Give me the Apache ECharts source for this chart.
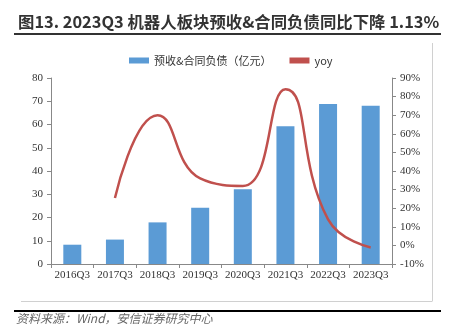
<!DOCTYPE html>
<html><head><meta charset="utf-8">
<script src="https://cdn.jsdelivr.net/npm/echarts@6/dist/echarts.min.js"></script>
<style>html,body{margin:0;padding:0;background:#fff}#c{width:453px;height:326px}</style>
</head><body><div id="c"></div>
<script>
const categories = ['2016Q3','2017Q3','2018Q3','2019Q3','2020Q3','2021Q3','2022Q3','2023Q3'];
const barValues = [8.3, 10.5, 17.9, 24.2, 32.2, 59.2, 68.8, 68.1];
const yoyValues = [null, 25.5, 70, 36, 32, 84, 14, -1.13];
const leftTicks = [0, 80, 10];
const rightTicks = [-10, 90, 10];

const chart = echarts.init(document.getElementById('c'), null, {renderer:'canvas'});
const serif = '"Liberation Serif","Times New Roman",serif';
const cjk = '"Noto Sans CJK SC",sans-serif';
chart.setOption({
  animation:false,
  title:{text:'图13. 2023Q3 机器人板块预收&合同负债同比下降 1.13%', left:13, top:9,
    textStyle:{fontFamily:cjk, fontWeight:'bold', fontSize:16.4, color:'#333'}},
  legend:{top:50, left:124, itemWidth:20, itemHeight:6, itemGap:18,
    textStyle:{fontFamily:cjk, fontSize:11, color:'#333'},
    data:[{name:'预收&合同负债（亿元）', icon:'rect'},{name:'yoy', icon:'rect'}]},
  grid:{left:51, right:61, top:78, bottom:62},
  xAxis:{type:'category', data:categories, boundaryGap:true,
    axisLine:{lineStyle:{color:'#888'}},
    axisTick:{show:true, length:4, interval:0, lineStyle:{color:'#888'}},
    axisLabel:{fontFamily:serif, fontSize:11, color:'#333', margin:6, interval:0}},
  yAxis:[
    {type:'value', min:leftTicks[0], max:leftTicks[1], interval:leftTicks[2],
     axisLine:{show:true, lineStyle:{color:'#888'}}, axisTick:{show:true, length:4, lineStyle:{color:'#888'}},
     splitLine:{show:false}, axisLabel:{fontFamily:serif, fontSize:11, color:'#333', margin:8}},
    {type:'value', min:rightTicks[0], max:rightTicks[1], interval:rightTicks[2], position:'right',
     axisLine:{show:true, lineStyle:{color:'#888'}}, axisTick:{show:true, length:4, lineStyle:{color:'#888'}},
     splitLine:{show:false}, axisLabel:{fontFamily:serif, fontSize:11, color:'#333', margin:8, formatter:'{value}%'}}
  ],
  series:[
    {name:'预收&合同负债（亿元）', type:'bar', data:barValues, barWidth:18, itemStyle:{color:'#5b9bd5'}},
    {name:'yoy', type:'line', yAxisIndex:1, data:yoyValues, smooth:0.5, symbol:'none',
     connectNulls:false, lineStyle:{color:'#c0504d', width:2.5}, itemStyle:{color:'#c0504d'}}
  ],
  graphic:[
    {type:'line', shape:{x1:14,y1:34,x2:441,y2:34}, style:{stroke:'#333', lineWidth:2}},
    {type:'line', shape:{x1:432.5,y1:43,x2:432.5,y2:301}, style:{stroke:'#d0d0d0', lineWidth:1}},
    {type:'line', shape:{x1:21,y1:301.5,x2:432.5,y2:301.5}, style:{stroke:'#d0d0d0', lineWidth:1}},
    {type:'line', shape:{x1:14,y1:311,x2:441,y2:311}, style:{stroke:'#000', lineWidth:2}},
    {type:'text', left:16, top:312, style:{text:'资料来源：Wind，安信证券研究中心', fontFamily:cjk, fontStyle:'italic', fontSize:12, fill:'#666'}}
  ]
});
</script></body></html>
